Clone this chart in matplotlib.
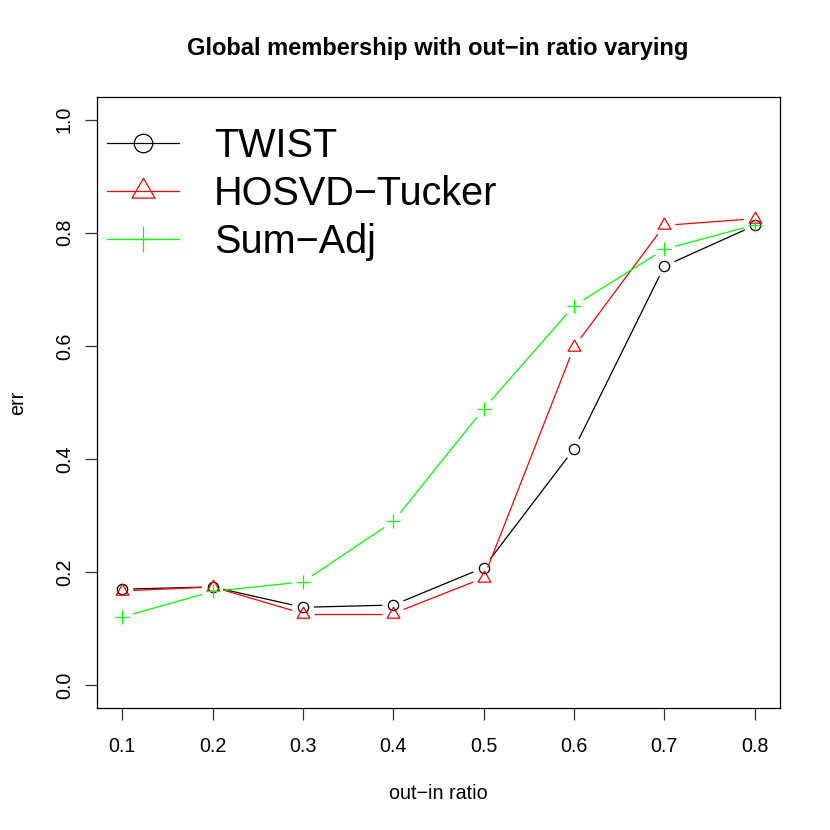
import numpy as np
import matplotlib
matplotlib.use("Agg")
import matplotlib.pyplot as plt
from matplotlib.lines import Line2D
from matplotlib.path import Path

plt.rcParams['font.family'] = ['Liberation Sans', 'DejaVu Sans']

ratio = [0.1, 0.2, 0.3, 0.4, 0.5, 0.6, 0.7, 0.8]
twist = [0.170, 0.174, 0.138, 0.142, 0.208, 0.418, 0.741, 0.813]
hosvd = [0.167, 0.174, 0.127, 0.127, 0.190, 0.598, 0.813, 0.825]
sumadj = [0.121, 0.166, 0.183, 0.290, 0.489, 0.671, 0.771, 0.814]
series_names = ["TWIST", "HOSVD\u2212Tucker", "Sum\u2212Adj"]
xticks = [0.1, 0.2, 0.3, 0.4, 0.5, 0.6, 0.7, 0.8]
yticks = [0.0, 0.2, 0.4, 0.6, 0.8, 1.0]

W, H = 830, 830
fig = plt.figure(figsize=(8.3, 8.3), dpi=100)
ax = fig.add_axes([97 / W, 1 - 708 / H, (780 - 97) / W, (708 - 97) / H])
ax.set_xlim(0.1 - 0.028, 0.8 + 0.028)
ax.set_ylim(-0.04, 1.04)

tri = Path([(0, 1), (-0.866, -0.5), (0.866, -0.5), (0, 1)],
           [Path.MOVETO, Path.LINETO, Path.LINETO, Path.CLOSEPOLY])

lw = 0.9
styles = [
    dict(color='black', marker='o', ms=7.4),
    dict(color='#FF0000', marker=tri, ms=10.6),
    dict(color='#00FF00', marker='+', ms=10.2),
]
data = [twist, hosvd, sumadj]

gap = 11.0  # pixels
for ys, st in zip(data, styles):
    pts = ax.transData.transform(np.column_stack([ratio, ys]))
    for i in range(len(pts) - 1):
        p0, p1 = pts[i], pts[i + 1]
        d = p1 - p0
        L = np.hypot(*d)
        if L > 2 * gap:
            u = d / L
            a = ax.transData.inverted().transform(np.vstack([p0 + u * gap, p1 - u * gap]))
            ax.plot(a[:, 0], a[:, 1], color=st['color'], lw=lw, solid_capstyle='butt')
    ax.plot(ratio, ys, linestyle='none', marker=st['marker'], ms=st['ms'],
            mfc='none', mec=st['color'], mew=lw)

for s in ax.spines.values():
    s.set_linewidth(0.9)
ax.set_xticks(xticks)
ax.set_xticklabels([f"{v:.1f}" for v in xticks])
ax.set_yticks(yticks)
ax.set_yticklabels([f"{v:.1f}" for v in yticks])
ax.tick_params(axis='both', direction='out', length=8.6, width=0.9, labelsize=14.2, color='#333333')
ax.tick_params(axis='x', pad=12)
ax.tick_params(axis='y', pad=8)
for lab in ax.get_yticklabels():
    lab.set_rotation(90)
    lab.set_va('center')
    lab.set_ha('right')

fig.text(438 / W, 1 - 48 / H, "Global membership with out\u2212in ratio varying",
         ha='center', va='center', fontsize=17, fontweight='bold')
fig.text(438 / W, 1 - 793 / H, "out\u2212in ratio", ha='center', va='center', fontsize=14.2)
fig.text(18 / W, 1 - 403 / H, "err", ha='center', va='center', rotation=90, fontsize=14.2)

handles = [Line2D([], [], color=st['color'], lw=lw, marker=st['marker'], ms=st['ms'],
                  mfc='none', mec=st['color'], mew=lw) for st in styles]
leg = ax.legend(handles, series_names, loc='upper left', frameon=False, fontsize=28.5,
                markerscale=1.8, handlelength=1.8, handletextpad=0.9, labelspacing=0.25,
                borderaxespad=0, bbox_to_anchor=(-0.008, 1 - 14 / (708 - 97)))

fig.savefig("out.png", dpi=100)
